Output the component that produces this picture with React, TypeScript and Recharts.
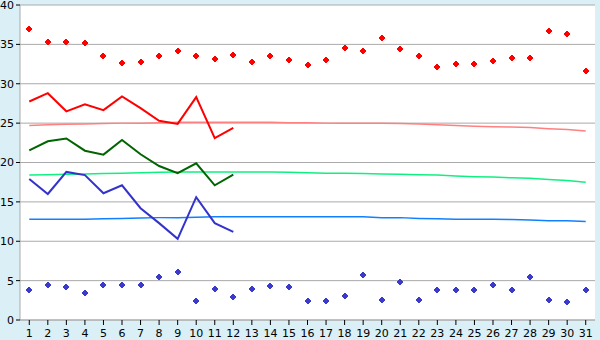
import React from "react";
import { ComposedChart, Line, XAxis, YAxis, CartesianGrid } from "recharts";

const days = [1, 2, 3, 4, 5, 6, 7, 8, 9, 10, 11, 12, 13, 14, 15, 16, 17, 18, 19, 20, 21, 22, 23, 24, 25, 26, 27, 28, 29, 30, 31];
const yTicks = [0, 5, 10, 15, 20, 25, 30, 35, 40];

const recordHigh = [37.0, 35.3, 35.3, 35.2, 33.5, 32.6, 32.7, 33.5, 34.1, 33.5, 33.1, 33.6, 32.7, 33.5, 33.0, 32.4, 33.0, 34.5, 34.1, 35.8, 34.4, 33.5, 32.1, 32.5, 32.5, 32.9, 33.3, 33.3, 36.7, 36.3, 31.6];
const recordLow = [3.8, 4.4, 4.15, 3.4, 4.5, 4.4, 4.5, 5.4, 6.05, 2.4, 3.9, 2.9, 3.9, 4.3, 4.15, 2.4, 2.4, 3.0, 5.7, 2.5, 4.8, 2.5, 3.8, 3.8, 3.8, 4.5, 3.8, 5.4, 2.6, 2.25, 3.8];

const obsMax = [27.75, 28.8, 26.5, 27.4, 26.65, 28.4, 26.9, 25.3, 24.9, 28.3, 23.1, 24.4];
const obsMean = [21.55, 22.7, 23.05, 21.5, 21.0, 22.85, 21.05, 19.55, 18.65, 19.9, 17.1, 18.45];
const obsMin = [17.9, 16.0, 18.8, 18.4, 16.1, 17.1, 14.2, 12.3, 10.3, 15.6, 12.3, 11.2];

const normalMax = [24.7, 24.8, 24.85, 24.9, 24.95, 25.0, 25.0, 25.05, 25.1, 25.1, 25.1, 25.1, 25.1, 25.1, 25.05, 25.05, 25.0, 25.0, 25.0, 25.0, 24.95, 24.9, 24.8, 24.7, 24.6, 24.55, 24.5, 24.45, 24.3, 24.2, 24.0];
const normalMean = [18.4, 18.45, 18.5, 18.55, 18.6, 18.65, 18.7, 18.75, 18.8, 18.8, 18.8, 18.8, 18.8, 18.8, 18.75, 18.7, 18.65, 18.65, 18.6, 18.55, 18.5, 18.45, 18.4, 18.3, 18.2, 18.15, 18.05, 18.0, 17.85, 17.7, 17.5];
const normalMin = [12.8, 12.8, 12.8, 12.8, 12.85, 12.9, 12.95, 13.0, 13.0, 13.05, 13.1, 13.1, 13.1, 13.1, 13.1, 13.1, 13.1, 13.1, 13.1, 13.0, 13.0, 12.9, 12.85, 12.8, 12.8, 12.8, 12.75, 12.7, 12.6, 12.6, 12.5];

const data = days.map((d, i) => ({
  day: d,
  recordHigh: recordHigh[i],
  recordLow: recordLow[i],
  obsMax: i < obsMax.length ? obsMax[i] : null,
  obsMean: i < obsMean.length ? obsMean[i] : null,
  obsMin: i < obsMin.length ? obsMin[i] : null,
  normalMax: normalMax[i],
  normalMean: normalMean[i],
  normalMin: normalMin[i],
}));

const makeMarker = (color: string) => (props: any) => {
  const { cx, cy, index } = props;
  if (cx == null || cy == null) return <g key={index} />;
  return (
    <g key={index} shapeRendering="crispEdges">
      <rect x={cx - 1} y={cy - 3} width={2} height={6} fill={color} />
      <rect x={cx - 3} y={cy - 1} width={6} height={2} fill={color} />
      <rect x={cx - 2} y={cy - 2} width={4} height={4} fill={color} />
    </g>
  );
};

const fontStyle = { fontFamily: "DejaVu Sans", fontSize: 11, fill: "#000" };
const halfBand = 574.5 / 31 / 2;

export default function App() {
  return (
    <div style={{ position: "absolute", left: 0, top: 0, width: 600, height: 340, background: "#daeff6" }}>
      <ComposedChart width={600} height={340} data={data} margin={{ top: 5, right: 5, left: 0, bottom: 0 }}>
        <CartesianGrid vertical={false} stroke="#aaaaaa" fill="#ffffff" yAxisId="left" />
        <XAxis
          dataKey="day"
          interval={0}
          height={20}
          padding={{ left: halfBand, right: halfBand }}
          tickSize={5}
          tickMargin={4}
          tick={fontStyle}
          axisLine={{ stroke: "#aaaaaa" }}
          tickLine={{ stroke: "#000" }}
        />
        <YAxis
          yAxisId="left"
          type="number"
          domain={[0, 40]}
          ticks={yTicks}
          interval={0}
          width={20}
          tickSize={4}
          tickMargin={2}
          tick={fontStyle}
          axisLine={{ stroke: "#aaaaaa" }}
          tickLine={{ stroke: "#000" }}
        />
        <YAxis
          yAxisId="right"
          orientation="right"
          type="number"
          domain={[0, 40]}
          width={0}
          tick={false}
          tickLine={false}
          axisLine={{ stroke: "#aaaaaa" }}
        />
        <Line yAxisId="left" dataKey="normalMax" stroke="#ff8080" strokeWidth={1.5} dot={false} isAnimationActive={false} type="linear" />
        <Line yAxisId="left" dataKey="normalMean" stroke="#10f080" strokeWidth={1.5} dot={false} isAnimationActive={false} type="linear" />
        <Line yAxisId="left" dataKey="normalMin" stroke="#1080ff" strokeWidth={1.5} dot={false} isAnimationActive={false} type="linear" />
        <Line yAxisId="left" dataKey="obsMax" stroke="#ff0000" strokeWidth={2} dot={false} isAnimationActive={false} type="linear" />
        <Line yAxisId="left" dataKey="obsMean" stroke="#006400" strokeWidth={2} dot={false} isAnimationActive={false} type="linear" />
        <Line yAxisId="left" dataKey="obsMin" stroke="#3333cc" strokeWidth={2} dot={false} isAnimationActive={false} type="linear" />
        <Line yAxisId="left" dataKey="recordHigh" stroke="none" dot={makeMarker("#ff0000")} activeDot={false} isAnimationActive={false} />
        <Line yAxisId="left" dataKey="recordLow" stroke="none" dot={makeMarker("#3a3acc")} activeDot={false} isAnimationActive={false} />
      </ComposedChart>
    </div>
  );
}
